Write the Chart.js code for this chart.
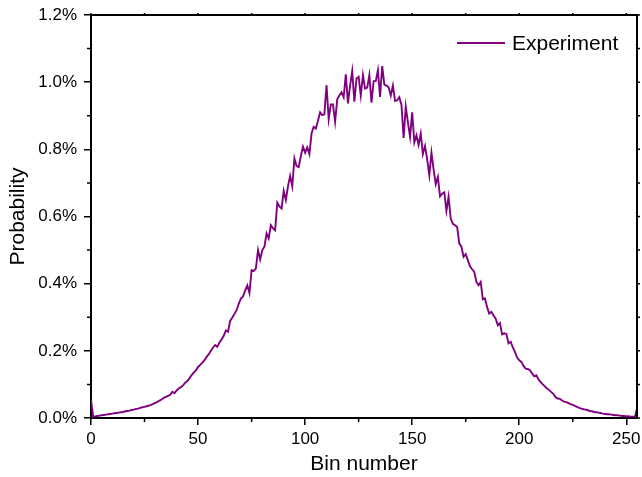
<!DOCTYPE html>
<html>
<head>
<meta charset="utf-8">
<script src="https://cdn.jsdelivr.net/npm/chart.js@4"></script>
<style>
  html, body { margin: 0; padding: 0; background: #fff; }
  #wrap { width: 642px; height: 477px; }
</style>
</head>
<body>
<div id="wrap"><canvas id="binChart" width="642" height="477"></canvas></div>
<script>
// 데이터 (확률, % 단위)
const binNumbers = Array.from({ length: 256 }, (_, i) => i);
const probLow = [ // bin 0 - 49
  0.055, 0.004, 0.005, 0.006, 0.007, 0.008, 0.009, 0.010, 0.011, 0.012,
  0.013, 0.014, 0.015, 0.016, 0.017, 0.018, 0.020, 0.021, 0.022, 0.024,
  0.025, 0.027, 0.028, 0.030, 0.032, 0.033, 0.035, 0.037, 0.039, 0.042,
  0.045, 0.048, 0.052, 0.055, 0.060, 0.063, 0.066, 0.069, 0.078, 0.074,
  0.082, 0.088, 0.092, 0.097, 0.105, 0.110, 0.118, 0.128, 0.135, 0.142
];
const probRise = [ // bin 50 - 99
  0.152, 0.158, 0.165, 0.172, 0.182, 0.190, 0.200, 0.210, 0.217, 0.212,
  0.225, 0.234, 0.245, 0.261, 0.257, 0.289, 0.299, 0.310, 0.321, 0.340,
  0.356, 0.362, 0.380, 0.395, 0.372, 0.440, 0.438, 0.445, 0.500, 0.472,
  0.500, 0.510, 0.550, 0.535, 0.574, 0.565, 0.559, 0.641, 0.630, 0.624,
  0.676, 0.649, 0.690, 0.721, 0.690, 0.773, 0.750, 0.747, 0.780, 0.808
];
const probPeak = [ // bin 100 - 155
  0.790, 0.806, 0.786, 0.847, 0.867, 0.862, 0.885, 0.910, 0.902, 0.904,
  0.991, 0.890, 0.934, 0.934, 0.882, 0.949, 0.960, 0.970, 0.955, 1.023,
  0.937, 0.990, 1.033, 0.942, 1.011, 1.016, 0.960, 1.021, 0.981, 0.984,
  1.021, 0.939, 1.003, 1.003, 1.036, 0.956, 1.048, 0.993, 0.990, 0.985,
  0.960, 0.990, 0.944, 0.946, 0.955, 0.932, 0.834, 0.927, 0.880, 0.837,
  0.910, 0.821, 0.842, 0.813, 0.847, 0.786
];
const probFall = [ // bin 156 - 205
  0.810, 0.770, 0.723, 0.790, 0.740, 0.696, 0.718, 0.660, 0.668, 0.672,
  0.617, 0.659, 0.594, 0.578, 0.574, 0.569, 0.520, 0.510, 0.480, 0.488,
  0.470, 0.452, 0.443, 0.435, 0.405, 0.395, 0.405, 0.353, 0.356, 0.330,
  0.311, 0.316, 0.305, 0.296, 0.276, 0.283, 0.249, 0.252, 0.250, 0.222,
  0.227, 0.210, 0.197, 0.180, 0.172, 0.167, 0.155, 0.147, 0.146, 0.142
];
const probTail = [ // bin 206 - 255
  0.133, 0.124, 0.127, 0.115, 0.107, 0.100, 0.094, 0.088, 0.083, 0.077,
  0.071, 0.062, 0.058, 0.057, 0.052, 0.049, 0.047, 0.044, 0.041, 0.039,
  0.036, 0.033, 0.030, 0.028, 0.026, 0.025, 0.023, 0.021, 0.020, 0.018,
  0.017, 0.016, 0.015, 0.013, 0.012, 0.011, 0.011, 0.010, 0.009, 0.008,
  0.008, 0.007, 0.006, 0.006, 0.005, 0.005, 0.004, 0.004, 0.003, 0.028
];
const probability = [...probLow, ...probRise, ...probPeak, ...probFall, ...probTail];

const xTicksMajor = [0, 50, 100, 150, 200, 250];
const xTicksMinor = [25, 75, 125, 175, 225];
const yTicksMajor = [0, 0.2, 0.4, 0.6, 0.8, 1.0, 1.2];
const yTicksMinor = [0.1, 0.3, 0.5, 0.7, 0.9, 1.1];

const LINE_COLOR = '#800080';
const FONT = 'Arial, "Liberation Sans", sans-serif';

// 보조 눈금 + 위/오른쪽 테두리 + 범례
const framePlugin = {
  id: 'frame',
  afterDraw(chart) {
    const { ctx, chartArea: a, scales: { x, y } } = chart;
    ctx.save();
    ctx.strokeStyle = '#000';
    ctx.lineWidth = 1.5;
    ctx.beginPath();
    xTicksMinor.forEach(v => {
      const px = x.getPixelForValue(v);
      ctx.moveTo(px, a.bottom); ctx.lineTo(px, a.bottom + 4);
    });
    yTicksMinor.forEach(v => {
      const py = y.getPixelForValue(v);
      ctx.moveTo(a.left, py); ctx.lineTo(a.left - 4, py);
    });
    // 위쪽 / 오른쪽 짧은 눈금
    [...xTicksMajor, ...xTicksMinor].forEach(v => {
      const px = x.getPixelForValue(v);
      ctx.moveTo(px, a.top); ctx.lineTo(px, a.top - 2);
    });
    [...yTicksMajor, ...yTicksMinor].forEach(v => {
      const py = y.getPixelForValue(v);
      ctx.moveTo(a.right, py); ctx.lineTo(a.right + 3, py);
    });
    ctx.stroke();

    ctx.lineWidth = 2;
    ctx.beginPath();
    ctx.moveTo(a.left - 1, a.top);
    ctx.lineTo(a.right, a.top);
    ctx.lineTo(a.right, a.bottom);
    ctx.stroke();

    // 범례
    ctx.strokeStyle = LINE_COLOR;
    ctx.lineWidth = 1.8;
    ctx.beginPath();
    ctx.moveTo(457, 43); ctx.lineTo(505, 43);
    ctx.stroke();
    ctx.fillStyle = '#000';
    ctx.font = '21px ' + FONT;
    ctx.textBaseline = 'middle';
    ctx.textAlign = 'left';
    ctx.fillText(chart.data.datasets[0].label, 512, 44);
    ctx.restore();
  }
};

const ctx = document.getElementById('binChart').getContext('2d');
new Chart(ctx, {
  type: 'line',
  data: {
    labels: binNumbers,
    datasets: [{
      label: 'Experiment',
      data: binNumbers.map((b, i) => ({ x: b, y: probability[i] })),
      borderColor: LINE_COLOR,
      borderWidth: 1.9,
      pointRadius: 0,
      tension: 0,
      fill: false
    }]
  },
  options: {
    responsive: false,
    animation: false,
    layout: { padding: { left: 0, right: 5, top: 15, bottom: 0 } },
    plugins: { legend: { display: false }, tooltip: { enabled: false } },
    scales: {
      x: {
        type: 'linear',
        min: 0,
        max: 255,
        border: { display: true, color: '#000', width: 2 },
        grid: { drawOnChartArea: false, drawTicks: true, tickLength: 7, color: '#000', lineWidth: 1.5 },
        ticks: {
          stepSize: 50,
          includeBounds: false,
          padding: 4,
          color: '#000',
          maxRotation: 0,
          autoSkip: false,
          font: { family: FONT, size: 17 }
        },
        title: {
          display: true,
          text: 'Bin number',
          color: '#000',
          font: { family: FONT, size: 21 },
          padding: { top: 0, bottom: 0 }
        },
        afterFit(scale) {
          scale.height = 59;
          scale.paddingLeft = 0;
          scale.paddingRight = 0;
        }
      },
      y: {
        min: 0,
        max: 1.2,
        border: { display: true, color: '#000', width: 2 },
        grid: { drawOnChartArea: false, drawTicks: true, tickLength: 7, color: '#000', lineWidth: 1.5 },
        ticks: {
          stepSize: 0.2,
          padding: 7,
          color: '#000',
          font: { family: FONT, size: 17 },
          callback: v => v.toFixed(1) + '%'
        },
        title: {
          display: true,
          text: 'Probability',
          color: '#000',
          font: { family: FONT, size: 21 },
          padding: { top: 6, bottom: 0 }
        },
        afterFit(scale) {
          scale.width = 91;
          scale.paddingTop = 0;
          scale.paddingBottom = 0;
        }
      }
    }
  },
  plugins: [framePlugin]
});
</script>
</body>
</html>
